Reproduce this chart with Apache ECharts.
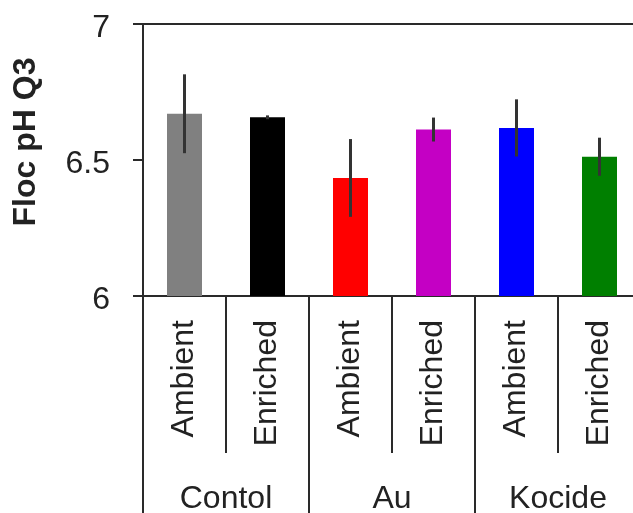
<!DOCTYPE html>
<html>
<head>
<meta charset="utf-8">
<script src="https://cdn.jsdelivr.net/npm/echarts@6/dist/echarts.min.js"></script>
<style>
  html, body { margin: 0; padding: 0; background: #fff; }
  #chart { width: 633px; height: 513px; }
</style>
</head>
<body>
<div id="chart"></div>
<script>
// Floc pH (Q3) by treatment and CO2 level
const treatments = ['Contol', 'Au', 'Kocide'];
const co2Levels = ['Ambient', 'Enriched', 'Ambient', 'Enriched', 'Ambient', 'Enriched'];
const phMeans = [6.67, 6.657, 6.434, 6.612, 6.618, 6.512];
const phErrors = [0.145, 0.007, 0.143, 0.044, 0.105, 0.07];
const yTicks = [6, 6.5, 7];

const barColors = ['#808080', '#000000', '#ff0000', '#c400c4', '#0000ff', '#007f00'];
const FONT = '"Liberation Sans", Arial, sans-serif';
const INK = '#222';
const LINE = '#2a2a2a';

const chart = echarts.init(document.getElementById('chart'), null, { renderer: 'canvas' });

chart.setOption({
  animation: false,
  backgroundColor: '#ffffff',
  grid: {
    left: 143, right: -8, top: 24, bottom: 217,
    outerBoundsMode: 'none',
    containLabel: false,
    show: true, borderColor: LINE, borderWidth: 2, backgroundColor: 'transparent'
  },
  xAxis: [
    {
      type: 'category',
      data: co2Levels,
      position: 'bottom',
      axisLine: { lineStyle: { color: LINE, width: 2 } },
      axisTick: { show: true, interval: 0, length: 157, lineStyle: { color: LINE, width: 2 } },
      axisLabel: {
        interval: 0, rotate: 90, margin: 24,
        fontFamily: FONT, fontSize: 32, color: INK
      }
    },
    {
      type: 'category',
      data: treatments,
      position: 'bottom',
      axisLine: { show: false },
      axisTick: { show: true, interval: 0, length: 217, lineStyle: { color: LINE, width: 2 } },
      axisLabel: {
        interval: 0, margin: 187,
        fontFamily: FONT, fontSize: 32, color: INK
      }
    }
  ],
  yAxis: {
    type: 'value',
    min: yTicks[0], max: yTicks[yTicks.length - 1], interval: 0.5,
    name: 'Floc pH Q3',
    nameLocation: 'middle',
    nameRotate: 90,
    nameGap: 101,
    nameTextStyle: { fontFamily: FONT, fontSize: 32, fontWeight: 'bold', color: INK, padding: [0, 0, 0, 36] },
    axisLine: { show: true, lineStyle: { color: LINE, width: 2 } },
    axisTick: { show: true, length: 10, lineStyle: { color: LINE, width: 2 } },
    splitLine: { show: false },
    axisLabel: {
      margin: 33, fontFamily: FONT, fontSize: 32, color: INK,
      verticalAlign: 'top', lineHeight: 8,
      formatter: v => String(v)
    }
  },
  series: [
    {
      type: 'bar',
      xAxisIndex: 0,
      barWidth: 35,
      data: phMeans.map((v, i) => ({ value: v, itemStyle: { color: barColors[i] } }))
    },
    {
      type: 'custom',
      xAxisIndex: 0,
      z: 5,
      data: phMeans.map((m, i) => [i, m - phErrors[i], m + phErrors[i]]),
      renderItem: (params, api) => {
        const lo = api.coord([api.value(0), api.value(1)]);
        const hi = api.coord([api.value(0), api.value(2)]);
        return {
          type: 'line',
          shape: { x1: lo[0], y1: lo[1], x2: hi[0], y2: hi[1] },
          style: { stroke: '#333', lineWidth: 3 }
        };
      }
    }
  ]
});
</script>
</body>
</html>
